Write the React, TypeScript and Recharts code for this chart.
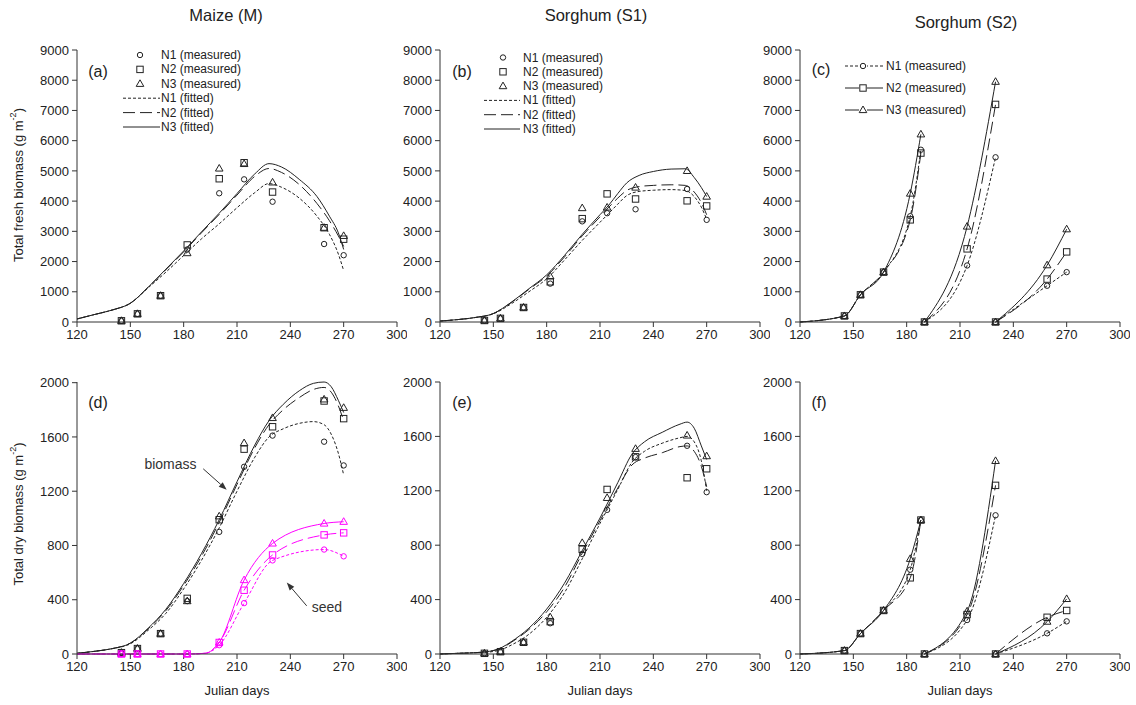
import React from "react";
import { ComposedChart, Line, Scatter, XAxis, YAxis, ReferenceLine, ReferenceDot } from "recharts";

// axes
const xTicks = [120, 150, 180, 210, 240, 270, 300];
const freshTicks = [0, 1000, 2000, 3000, 4000, 5000, 6000, 7000, 8000, 9000];
const dryTicks = [0, 400, 800, 1200, 1600, 2000];

// sampling dates (Julian days)
const measDays = [145, 154, 167, 182, 200, 214, 230, 259, 270];

// (a) maize fresh biomass
const aN1 = [40, 270, 870, 2400, 4260, 4720, 3980, 2580, 2210];
const aN2 = [40, 270, 870, 2550, 4740, 5270, 4300, 3120, 2740];
const aN3 = [40, 270, 870, 2280, 5080, 5230, 4620, 3120, 2850];
const aFitDays = [120, 130, 140, 150, 160, 170, 180, 190, 200, 210, 220, 228, 235, 245, 255, 262, 267, 270];
const aFitN1 = [100, 250, 400, 620, 1130, 1650, 2200, 2750, 3250, 3780, 4280, 4580, 4460, 4100, 3500, 2900, 2250, 1700];
const aFitN2 = [100, 250, 400, 620, 1150, 1730, 2320, 2950, 3560, 4200, 4820, 5080, 4950, 4550, 3920, 3350, 2850, 2500];
const aFitN3 = [100, 250, 400, 620, 1150, 1750, 2350, 2980, 3600, 4250, 4900, 5240, 5130, 4720, 4150, 3500, 2950, 2400];

// (b) sorghum S1 fresh biomass
const bN1 = [50, 120, 480, 1270, 3330, 3600, 3730, 4400, 3380];
const bN2 = [50, 120, 480, 1330, 3420, 4240, 4070, 4010, 3840];
const bN3 = [50, 120, 480, 1510, 3770, 3790, 4450, 5000, 4150];
const bFitDays = [120, 130, 140, 150, 160, 170, 180, 190, 200, 210, 215, 220, 225, 232, 240, 250, 258, 263, 267, 270];
const bFitN1 = [30, 80, 150, 270, 600, 1000, 1430, 2050, 2700, 3300, 3600, 3900, 4180, 4320, 4360, 4380, 4350, 4150, 3800, 3400];
const bFitN2 = [30, 80, 150, 280, 640, 1080, 1520, 2150, 2850, 3480, 3800, 4100, 4350, 4480, 4520, 4540, 4520, 4300, 3950, 3550];
const bFitN3 = [30, 80, 150, 280, 650, 1100, 1560, 2200, 2900, 3550, 3870, 4250, 4600, 4850, 4980, 5060, 5070, 4780, 4450, 4150];

// (c) sorghum S2 fresh biomass, three sowings
const seg1Days = [145, 154, 167, 182, 188];
const seg2Days = [190, 214, 230];
const seg3Days = [230, 259, 270];
const lineStart = { x: 120, y: 0 };
const cN1s1 = [200, 900, 1650, 3500, 5700];
const cN2s1 = [200, 900, 1650, 3380, 5590];
const cN3s1 = [200, 900, 1650, 4250, 6210];
const cN1s2 = [0, 1870, 5450];
const cN2s2 = [0, 2420, 7200];
const cN3s2 = [0, 3160, 7950];
const cN1s3 = [0, 1200, 1650];
const cN2s3 = [0, 1420, 2320];
const cN3s3 = [0, 1880, 3070];

// (d) maize dry biomass + seed
const dN1 = [10, 40, 150, 390, 900, 1380, 1610, 1565, 1390];
const dN2 = [10, 40, 150, 410, 990, 1510, 1675, 1865, 1735];
const dN3 = [10, 40, 150, 390, 1015, 1555, 1740, 1877, 1815];
const dFitDays = [120, 130, 140, 150, 160, 170, 180, 190, 200, 210, 220, 228, 236, 245, 253, 259, 263, 267, 270];
const dFitN1 = [5, 20, 40, 75, 175, 300, 480, 690, 930, 1200, 1450, 1600, 1660, 1700, 1713, 1690, 1620, 1480, 1320];
const dFitN2 = [5, 20, 40, 80, 185, 320, 505, 720, 970, 1250, 1520, 1690, 1800, 1890, 1950, 1965, 1930, 1830, 1720];
const dFitN3 = [5, 20, 40, 80, 190, 330, 520, 740, 990, 1270, 1540, 1720, 1840, 1940, 1995, 2005, 1970, 1870, 1780];
const seedN1 = [0, 0, 0, 0, 65, 375, 690, 770, 720];
const seedN2 = [0, 0, 0, 0, 85, 470, 730, 878, 893];
const seedN3 = [0, 0, 0, 0, 85, 545, 815, 962, 975];
const seedFitDays = [120, 145, 154, 167, 182, 192, 200, 214, 230, 259, 270];
const seedFitN1 = [0, 0, 0, 0, 0, 5, 65, 375, 690, 770, 720];
const seedFitN2 = [0, 0, 0, 0, 0, 5, 85, 470, 730, 878, 893];
const seedFitN3 = [0, 0, 0, 0, 0, 5, 85, 545, 815, 962, 975];

// (e) sorghum S1 dry biomass
const eN1 = [5, 17, 86, 226, 736, 1060, 1448, 1531, 1190];
const eN2 = [5, 17, 86, 238, 770, 1210, 1450, 1296, 1362];
const eN3 = [5, 17, 86, 270, 817, 1148, 1509, 1607, 1455];
const eFitDays = [120, 130, 140, 148, 155, 160, 170, 180, 190, 200, 210, 220, 228, 235, 245, 255, 259, 263, 267, 270];
const eFitN1 = [0, 5, 10, 15, 35, 65, 145, 270, 450, 700, 960, 1210, 1410, 1490, 1550, 1590, 1600, 1560, 1420, 1200];
const eFitN2 = [0, 5, 10, 20, 45, 85, 180, 310, 490, 740, 980, 1220, 1390, 1440, 1480, 1525, 1530, 1490, 1380, 1230];
const eFitN3 = [0, 5, 10, 20, 50, 90, 190, 330, 520, 760, 1000, 1260, 1470, 1560, 1630, 1690, 1705, 1660, 1530, 1430];

// (f) sorghum S2 dry biomass
const fN1s1 = [25, 150, 320, 620, 985];
const fN2s1 = [25, 150, 320, 560, 985];
const fN3s1 = [25, 150, 320, 700, 985];
const fN1s2 = [0, 250, 1020];
const fN2s2 = [0, 290, 1240];
const fN3s2 = [0, 314, 1420];
const fN1s3 = [0, 152, 240];
const fN2s3 = [0, 270, 320];
const fN3s3 = [0, 238, 405];

const INK = "#222";
const MAGENTA = "#ff00ff";
const FONT = "'Liberation Sans', Arial, sans-serif";
const DASH = ["3 2", "12 5", undefined];
const KINDS = ["circle", "square", "triangle"];

const pts = (days: number[], vals: number[]) => days.map((d, i) => ({ x: d, y: vals[i] }));

function Mark({ cx, cy, kind, color }: { cx: number; cy: number; kind: string; color: string }) {
  if (cx == null || cy == null) return null;
  if (kind === "circle") return <circle cx={cx} cy={cy} r={2.7} fill="none" stroke={color} strokeWidth={1} />;
  if (kind === "square") return <rect x={cx - 3.2} y={cy - 3.2} width={6.4} height={6.4} fill="none" stroke={color} strokeWidth={1} />;
  return <polygon points={`${cx},${cy - 4} ${cx + 3.8},${cy + 2.6} ${cx - 3.8},${cy + 2.6}`} fill="none" stroke={color} strokeWidth={1} />;
}

type LineSpec = { data: { x: number; y: number }[]; n: number; color?: string };
type PtSpec = { data: { x: number; y: number }[]; n: number; color?: string };

function Panel({ left, top, yMax, yTicks, lines, marks, extra }: {
  left: number; top: number; yMax: number; yTicks: number[]; lines: LineSpec[]; marks: PtSpec[]; extra?: React.ReactNode[];
}) {
  return (
    <div style={{ position: "absolute", left: left - 60, top: top - 10 }}>
      <ComposedChart width={390} height={312} margin={{ top: 10, right: 10, bottom: 0, left: 0 }}>
        <XAxis
          type="number" dataKey="x" domain={[120, 300]} ticks={xTicks} interval={0} height={30}
          tickSize={5} tickMargin={3} stroke="#333" tick={{ fill: INK, fontSize: 13, fontFamily: FONT }}
        />
        <YAxis
          type="number" dataKey="y" domain={[0, yMax]} ticks={yTicks} interval={0} width={60}
          tickSize={5} tickMargin={3} stroke="#333" tick={{ fill: INK, fontSize: 13, fontFamily: FONT }}
        />
        {lines.map((l, i) => (
          <Line
            key={"l" + i} data={l.data} dataKey="y" type="monotone" stroke={l.color ?? INK} strokeWidth={1}
            strokeDasharray={DASH[l.n - 1]} dot={false} activeDot={false} isAnimationActive={false}
          />
        ))}
        {marks.map((m, i) => (
          <Scatter
            key={"m" + i} data={m.data} dataKey="y" isAnimationActive={false}
            shape={(p: any) => <Mark cx={p.cx} cy={p.cy} kind={KINDS[m.n - 1]} color={m.color ?? INK} />}
          />
        ))}
        {extra}
      </ComposedChart>
    </div>
  );
}

function Arrow(p: any) {
  const { x1, y1, x2, y2 } = p;
  const a = Math.atan2(y2 - y1, x2 - x1);
  const L = 8, W = 3;
  const bx = x2 - L * Math.cos(a), by = y2 - L * Math.sin(a);
  const px = -Math.sin(a) * W, py = Math.cos(a) * W;
  return (
    <g>
      <line x1={x1} y1={y1} x2={bx} y2={by} stroke="#333" strokeWidth={1} />
      <polygon points={`${x2},${y2} ${bx + px},${by + py} ${bx - px},${by - py}`} fill="#333" />
    </g>
  );
}

const noteText = (label: string) => (p: any) => (
  <text x={p.cx} y={p.cy} textAnchor="middle" dominantBaseline="central" fontSize={14} fontFamily={FONT} fill="#333">
    {label}
  </text>
);

function measured(a: number[], b: number[], c: number[], color?: string): PtSpec[] {
  return [
    { data: pts(measDays, a), n: 1, color },
    { data: pts(measDays, b), n: 2, color },
    { data: pts(measDays, c), n: 3, color },
  ];
}

function fitted(days: number[], a: number[], b: number[], c: number[], color?: string): LineSpec[] {
  return [
    { data: pts(days, a), n: 1, color },
    { data: pts(days, b), n: 2, color },
    { data: pts(days, c), n: 3, color },
  ];
}

function sowings(s1: number[][], s2: number[][], s3: number[][]) {
  const lines: LineSpec[] = [];
  const marks: PtSpec[] = [];
  [0, 1, 2].forEach((k) => {
    lines.push({ data: [lineStart, ...pts(seg1Days, s1[k])], n: k + 1 });
    lines.push({ data: pts(seg2Days, s2[k]), n: k + 1 });
    lines.push({ data: pts(seg3Days, s3[k]), n: k + 1 });
    marks.push({ data: [...pts(seg1Days, s1[k]), ...pts(seg2Days, s2[k]), ...pts(seg3Days, s3[k])], n: k + 1 });
  });
  return { lines, marks };
}

function LegendFit({ mx, tx, x1, x2, y0, dy }: { mx: number; tx: number; x1: number; x2: number; y0: number; dy: number }) {
  const labels = ["N1 (measured)", "N2 (measured)", "N3 (measured)", "N1 (fitted)", "N2 (fitted)", "N3 (fitted)"];
  return (
    <g>
      {labels.map((t, i) => {
        const y = y0 + i * dy;
        return (
          <g key={t}>
            {i < 3 ? (
              <Mark cx={mx} cy={y} kind={KINDS[i]} color={INK} />
            ) : (
              <line x1={x1} x2={x2} y1={y} y2={y} stroke={INK} strokeDasharray={DASH[i - 3]} />
            )}
            <text x={tx} y={y} dominantBaseline="central" fontSize={12} fill={INK}>{t}</text>
          </g>
        );
      })}
    </g>
  );
}

function LegendMeas({ mx, tx, x1, x2, y0, dy }: { mx: number; tx: number; x1: number; x2: number; y0: number; dy: number }) {
  const labels = ["N1 (measured)", "N2 (measured)", "N3 (measured)"];
  const dashes = ["3 2", undefined, undefined];
  return (
    <g>
      {labels.map((t, i) => {
        const y = y0 + i * dy;
        return (
          <g key={t}>
            <line x1={x1} x2={x2} y1={y} y2={y} stroke={INK} strokeDasharray={dashes[i]} />
            <rect x={mx - 4} y={y - 4} width={8} height={8} fill="#fff" />
            <Mark cx={mx} cy={y} kind={KINDS[i]} color={INK} />
            <text x={tx} y={y} dominantBaseline="central" fontSize={12} fill={INK}>{t}</text>
          </g>
        );
      })}
    </g>
  );
}

export default function App() {
  const c = sowings([cN1s1, cN2s1, cN3s1], [cN1s2, cN2s2, cN3s2], [cN1s3, cN2s3, cN3s3]);
  const f = sowings([fN1s1, fN2s1, fN3s1], [fN1s2, fN2s2, fN3s2], [fN1s3, fN2s3, fN3s3]);

  const dExtra = [
    <ReferenceLine key="ab" segment={[{ x: 191, y: 1365 }, { x: 204.2, y: 1211 }]} shape={Arrow} />,
    <ReferenceLine key="as" segment={[{ x: 249.2, y: 355 }, { x: 238, y: 527 }]} shape={Arrow} />,
    <ReferenceDot key="tb" x={172.6} y={1402} r={1} shape={noteText("biomass")} />,
    <ReferenceDot key="ts" x={260.6} y={348} r={1} shape={noteText("seed")} />,
  ];

  return (
    <div style={{ position: "absolute", left: 0, top: 0, width: 1136, height: 705, background: "#fff", fontFamily: FONT }}>
      <Panel left={77} top={50} yMax={9000} yTicks={freshTicks}
        lines={fitted(aFitDays, aFitN1, aFitN2, aFitN3)} marks={measured(aN1, aN2, aN3)} />
      <Panel left={440} top={50} yMax={9000} yTicks={freshTicks}
        lines={fitted(bFitDays, bFitN1, bFitN2, bFitN3)} marks={measured(bN1, bN2, bN3)} />
      <Panel left={800} top={50} yMax={9000} yTicks={freshTicks} lines={c.lines} marks={c.marks} />
      <Panel left={77} top={382} yMax={2000} yTicks={dryTicks}
        lines={[...fitted(dFitDays, dFitN1, dFitN2, dFitN3), ...fitted(seedFitDays, seedFitN1, seedFitN2, seedFitN3, MAGENTA)]}
        marks={[...measured(dN1, dN2, dN3), ...measured(seedN1, seedN2, seedN3, MAGENTA)]}
        extra={dExtra} />
      <Panel left={440} top={382} yMax={2000} yTicks={dryTicks}
        lines={fitted(eFitDays, eFitN1, eFitN2, eFitN3)} marks={measured(eN1, eN2, eN3)} />
      <Panel left={800} top={382} yMax={2000} yTicks={dryTicks} lines={f.lines} marks={f.marks} />

      <svg width={1136} height={705} style={{ position: "absolute", left: 0, top: 0, pointerEvents: "none" }} fontFamily={FONT}>
        <g fontSize={16.5} fill={INK} textAnchor="middle" dominantBaseline="central">
          <text x={226} y={15}>Maize (M)</text>
          <text x={596} y={15}>Sorghum (S1)</text>
          <text x={966} y={22}>Sorghum (S2)</text>
        </g>
        <g fontSize={16} fill={INK} textAnchor="middle" dominantBaseline="central">
          <text x={98} y={71}>(a)</text>
          <text x={462} y={71}>(b)</text>
          <text x={821} y={69}>(c)</text>
          <text x={98} y={402}>(d)</text>
          <text x={462} y={402}>(e)</text>
          <text x={819} y={402}>(f)</text>
        </g>
        <g fontSize={13} fill={INK} textAnchor="middle" dominantBaseline="central">
          <text transform="translate(18,185) rotate(-90)">
            Total fresh biomass (g m<tspan dy={-5} fontSize={9}>-2</tspan><tspan dy={5}>)</tspan>
          </text>
          <text transform="translate(18,514) rotate(-90)">
            Total dry biomass (g m<tspan dy={-5} fontSize={9}>-2</tspan><tspan dy={5}>)</tspan>
          </text>
          <text x={237} y={690}>Julian days</text>
          <text x={600} y={690}>Julian days</text>
          <text x={960} y={690}>Julian days</text>
        </g>
        <LegendFit mx={140} tx={161} x1={123} x2={160} y0={55} dy={14.4} />
        <LegendFit mx={503} tx={523} x1={484} x2={520} y0={57.5} dy={14.3} />
        <LegendMeas mx={863} tx={886} x1={845} x2={883} y0={66} dy={22} />
      </svg>
    </div>
  );
}
